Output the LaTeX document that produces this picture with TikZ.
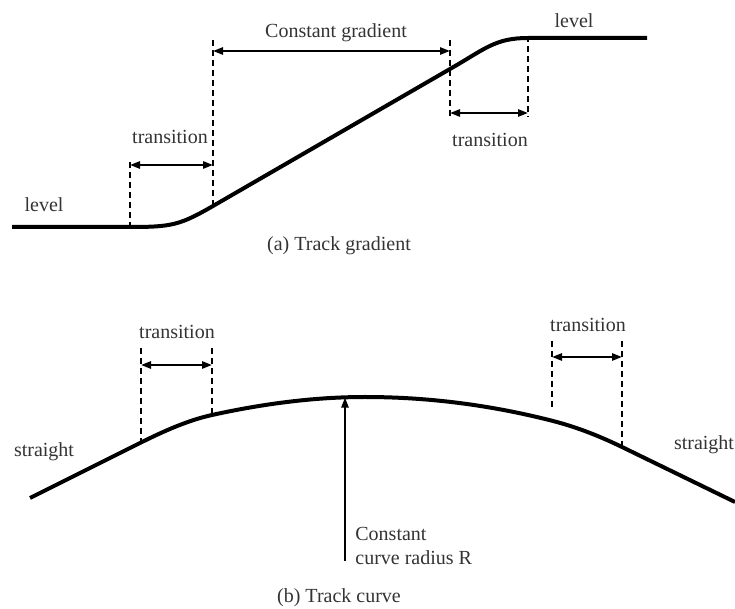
\documentclass[tikz,border=0pt]{standalone}
\usepackage{fontspec}
\setmainfont{Liberation Serif}
\usetikzlibrary{arrows.meta}
\begin{document}
\begin{tikzpicture}[x=0.5pt,y=-0.5pt,
  track/.style={line width=2pt, line join=round},
  guide/.style={line width=1pt, dash pattern=on 3pt off 2pt},
  dim/.style={line width=1pt, {Triangle[length=5pt,width=3.6pt]}-{Triangle[length=5pt,width=3.6pt]}},
  lbl/.style={text=black!80, font=\fontsize{10}{12}\selectfont, inner sep=0pt}]
\useasboundingbox (0,0) rectangle (735,609);
% ---------- (a) Track gradient ----------
\coordinate (a0) at (12,227);
\coordinate (a1) at (130,227);
\coordinate (a2) at (213,206);
\coordinate (a3) at (450,69);
\coordinate (a4) at (528,38);
\coordinate (a5) at (647,38);
\draw[track] (a0) -- (a1) .. controls (172,227) and (180,225) .. (a2) -- (a3)
  .. controls (485,49) and (495,38) .. (a4) -- (a5);
% guides
\coordinate (g1t) at (130,162);
\coordinate (g2t) at (213,40);
\coordinate (g3t) at (450,40);
\coordinate (g3b) at (450,117);
\coordinate (g4t) at (528,36);
\coordinate (g4b) at (528,117);
\draw[guide] (g1t) -- (a1);
\draw[guide] (g2t) -- (a2);
\draw[guide] (g3t) -- (g3b);
\draw[guide] (g4t) -- (g4b);
% dimension arrows
\coordinate (d1l) at (130,165);
\coordinate (d1r) at (213,165);
\coordinate (d2l) at (213,51);
\coordinate (d2r) at (450,51);
\coordinate (d3l) at (450,113);
\coordinate (d3r) at (528,113);
\draw[dim] (d1l) -- (d1r);
\draw[dim] (d2l) -- (d2r);
\draw[dim] (d3l) -- (d3r);
% labels
\node[lbl] (tla) at (170,137) {transition};
\node[lbl] (cg) at (336,33) {Constant gradient};
\node[lbl] (tra) at (490,140) {transition};
\node[lbl] (lvl1) at (44,205) {level};
\node[lbl] (lvl2) at (574,21) {level};
\node[lbl] (capa) at (339,246) {(a) Track gradient};
% ---------- (b) Track curve ----------
\coordinate (b0) at (30,498);
\coordinate (b1) at (140,443);
\coordinate (b2) at (212,415);
\coordinate (bt) at (365,397);
\coordinate (b3) at (553,421);
\coordinate (b4) at (622,447);
\coordinate (b5) at (735,502);
\draw[track] (b0) -- (b1)
  .. controls (164,431) and (188,420.3) .. (b2)
  .. controls (263,403.8) and (314,397) .. (bt)
  .. controls (427.7,397) and (490.3,404.9) .. (b3)
  .. controls (576,426.9) and (599,435.8) .. (b4)
  -- (b5);
% guides
\coordinate (h1t) at (141,348);
\coordinate (h1b) at (141,443);
\coordinate (h2t) at (212,348);
\coordinate (h3t) at (552,341);
\coordinate (h3b) at (552,410);
\coordinate (h4t) at (622,341);
\draw[guide] (h1t) -- (h1b);
\draw[guide] (h2t) -- (b2);
\draw[guide] (h3t) -- (h3b);
\draw[guide] (h4t) -- (b4);
\coordinate (e1l) at (141,365);
\coordinate (e1r) at (212,365);
\coordinate (e2l) at (552,357);
\coordinate (e2r) at (622,357);
\draw[dim] (e1l) -- (e1r);
\draw[dim] (e2l) -- (e2r);
% radius arrow
\coordinate (rb) at (345,561);
\coordinate (rt) at (345,397.6);
\draw[line width=1pt, -{Triangle[length=5pt,width=3.6pt]}] (rb) -- (rt);
% labels
\node[lbl] (tlb) at (177,332) {transition};
\node[lbl] (trb) at (588,325) {transition};
\node[lbl] (st1) at (44,452) {straight};
\node[lbl] (st2) at (704,445) {straight};
\node[lbl, anchor=west, align=left] (rad) at (355,546) {Constant\\curve radius R};
\node[lbl] (capb) at (339,598) {(b) Track curve};
\end{tikzpicture}
\end{document}
